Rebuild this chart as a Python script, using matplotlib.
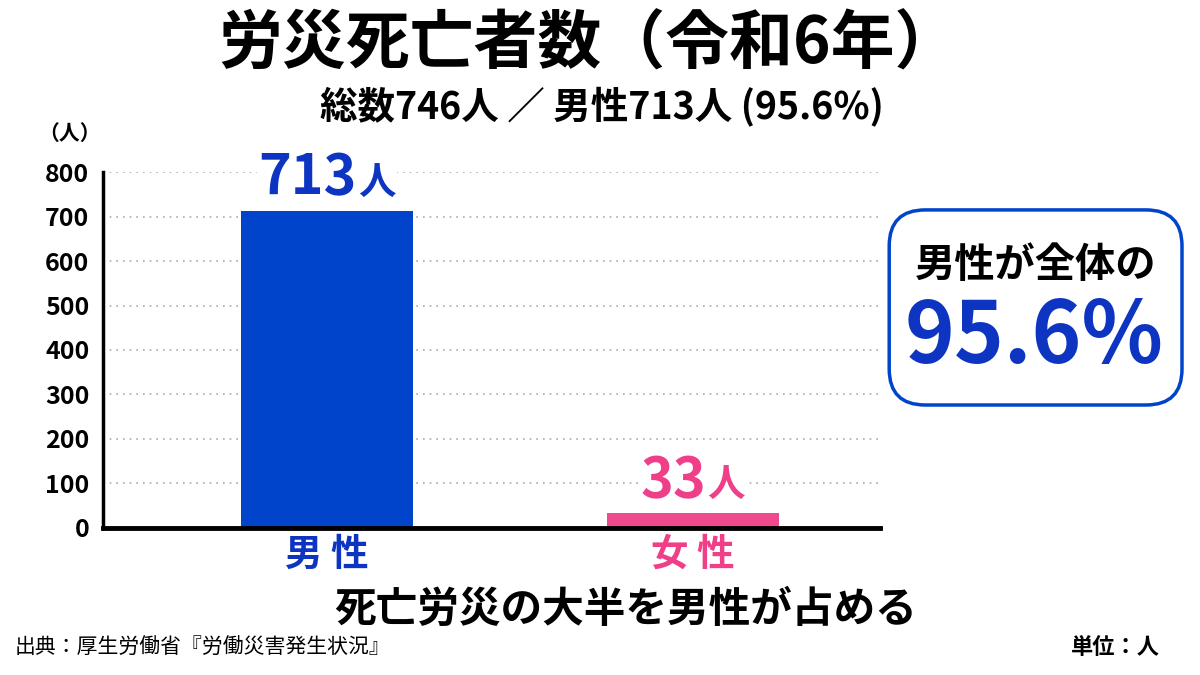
import matplotlib.pyplot as plt
from matplotlib.patches import FancyBboxPatch
from matplotlib.offsetbox import TextArea, HPacker, AnnotationBbox

plt.rcParams['font.family'] = ['Noto Sans CJK JP', 'DejaVu Sans']

categories = ['男 性', '女 性']
values = [713, 33]
value_labels = ['713', '33']
yticks = [0, 100, 200, 300, 400, 500, 600, 700, 800]
total = 746
share = 95.6

blue = '#0044CC'
pink = '#F04A8E'
label_blue = '#0D35C2'
label_pink = '#EE3F88'

fig = plt.figure(figsize=(12, 6.75), dpi=100)
ax = fig.add_axes([0.086, 0.218, 0.647, 0.527])

x = [0, 1]
ax.bar(x, values, width=0.47, color=[blue, pink], zorder=2)

ax.set_xlim(-0.61, 1.51)
ax.set_ylim(0, 800)
ax.set_yticks(yticks)
ax.set_yticklabels([str(v) for v in yticks], fontsize=18, fontweight='bold')
ax.set_xticks(x)
ax.set_xticklabels(categories, fontsize=27, fontweight='bold')
for lbl, c in zip(ax.get_xticklabels(), [label_blue, label_pink]):
    lbl.set_color(c)
ax.tick_params(axis='y', length=0, pad=10)
ax.tick_params(axis='x', length=0, pad=5)

for v in yticks[1:]:
    ax.axhline(v, color='#AAAAAA', linestyle=(0, (1, 3)), linewidth=1.2, zorder=1)

for side in ['top', 'right']:
    ax.spines[side].set_visible(False)
ax.spines['left'].set_linewidth(2.5)
ax.spines['bottom'].set_linewidth(3.5)
ax.spines['left'].set_zorder(3)
ax.spines['bottom'].set_zorder(3)

# value labels on top of bars (number big, 人 smaller)
for xi, v, txt, c in zip(x, values, value_labels, [label_blue, label_pink]):
    num = TextArea(txt, textprops=dict(fontsize=40, fontweight='bold', color=c))
    unit = TextArea('人', textprops=dict(fontsize=27, fontweight='bold', color=c))
    pack = HPacker(children=[num, unit], align='baseline', pad=0, sep=1)
    ab = AnnotationBbox(pack, (xi, v), xybox=(0, 3), xycoords='data',
                        boxcoords='offset points', box_alignment=(0.5, 0),
                        frameon=True, pad=0.1, zorder=1.5)
    ab.patch.set_facecolor('white')
    ab.patch.set_edgecolor('none')
    ax.add_artist(ab)

fig.text(0.058, 0.802, '（人）', fontsize=15, fontweight='bold', ha='center', va='center')

# titles
fig.text(0.49, 0.933, '労災死亡者数（令和6年）', fontsize=46, fontweight='bold',
         ha='center', va='center')
fig.text(0.502, 0.843, f'総数{total}人 ／ 男性{values[0]}人 ({share}%)', fontsize=27,
         fontweight='bold', ha='center', va='center')

# callout box
box = FancyBboxPatch((0.741, 0.40), 0.244, 0.289, transform=fig.transFigure,
                     boxstyle='round,pad=0,rounding_size=0.03',
                     facecolor='white', edgecolor=blue, linewidth=2.5,
                     mutation_aspect=1200 / 675)
fig.add_artist(box)
fig.text(0.863, 0.606, '男性が全体の', fontsize=29, fontweight='bold',
         ha='center', va='center')
fig.text(0.862, 0.5, f'{share}%', fontsize=61, fontweight='bold', color=label_blue,
         ha='center', va='center')

# bottom notes
fig.text(0.521, 0.096, '死亡労災の大半を男性が占める', fontsize=30, fontweight='bold',
         ha='center', va='center')
fig.text(0.012, 0.04, '出典：厚生労働省『労働災害発生状況』', fontsize=15,
         ha='left', va='center')
fig.text(0.967, 0.04, '単位：人', fontsize=16, fontweight='bold',
         ha='right', va='center')

fig.savefig('out.png', dpi=100, facecolor='white')
